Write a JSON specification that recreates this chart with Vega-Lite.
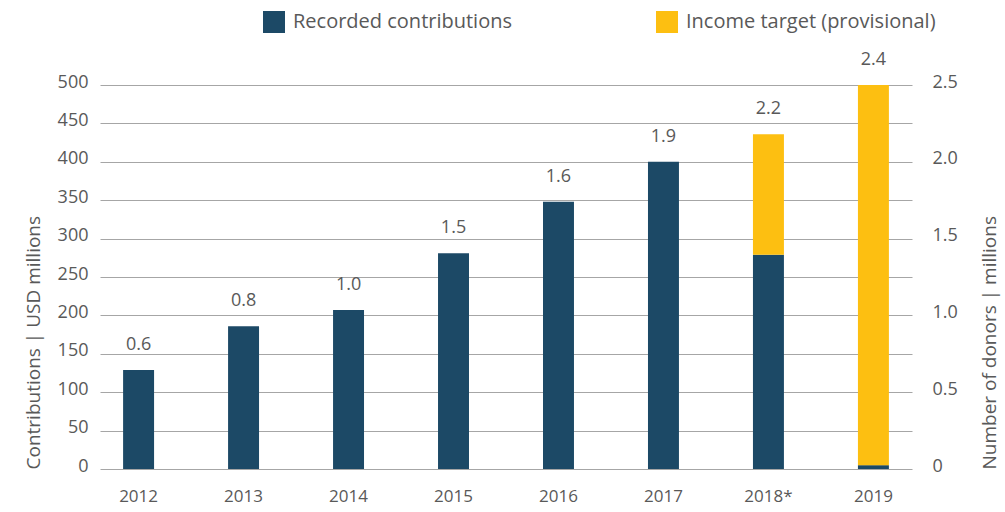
{
  "$schema": "https://vega.github.io/schema/vega-lite/v6.json",
  "width": 812,
  "height": 384,
  "autosize": {"type": "none"},
  "padding": {"left": 100, "top": 85, "right": 93, "bottom": 43},
  "config": {
    "view": {"stroke": null},
    "font": "Open Sans",
    "axis": {"labelColor": "#595959", "titleColor": "#595959", "labelFont": "Open Sans", "titleFont": "Open Sans", "titleFontWeight": "normal"}
  },
  "datasets": {
    "bars": [
      {"year": "2012", "series": "Recorded contributions", "value": 129},
      {"year": "2013", "series": "Recorded contributions", "value": 186},
      {"year": "2014", "series": "Recorded contributions", "value": 207},
      {"year": "2015", "series": "Recorded contributions", "value": 281},
      {"year": "2016", "series": "Recorded contributions", "value": 348},
      {"year": "2017", "series": "Recorded contributions", "value": 400},
      {"year": "2018*", "series": "Recorded contributions", "value": 279},
      {"year": "2018*", "series": "Income target (provisional)", "value": 157},
      {"year": "2019", "series": "Recorded contributions", "value": 5},
      {"year": "2019", "series": "Income target (provisional)", "value": 495}
    ],
    "labels": [
      {"year": "2012", "total": 129, "donors": 0.6},
      {"year": "2013", "total": 186, "donors": 0.8},
      {"year": "2014", "total": 207, "donors": 1.0},
      {"year": "2015", "total": 281, "donors": 1.5},
      {"year": "2016", "total": 348, "donors": 1.6},
      {"year": "2017", "total": 400, "donors": 1.9},
      {"year": "2018*", "total": 436, "donors": 2.2},
      {"year": "2019", "total": 500, "donors": 2.4}
    ]
  },
  "encoding": {
    "x": {
      "field": "year", "type": "nominal", "sort": null,
      "scale": {"paddingInner": 0.705, "paddingOuter": 0.22},
      "axis": {"title": null, "labelAngle": 0, "labelFontSize": 17, "ticks": false, "domain": false, "labelPadding": 19}
    }
  },
  "layer": [
    {
      "data": {"name": "bars"},
      "mark": {"type": "bar"},
      "encoding": {
        "y": {
          "field": "value", "type": "quantitative", "stack": "zero",
          "scale": {"domain": [0, 500], "nice": false},
          "axis": {
            "orient": "left", "title": "Contributions | USD millions", "titleFontSize": 19, "titlePadding": 14, "titleAnchor": "start",
            "values": [0, 50, 100, 150, 200, 250, 300, 350, 400, 450, 500],
            "labelFontSize": 18, "labelPadding": 12, "labelOffset": -3, "ticks": false, "domain": false,
            "grid": true, "gridColor": "#a6a6a6", "gridWidth": 1
          }
        },
        "color": {
          "field": "series", "type": "nominal",
          "scale": {"domain": ["Recorded contributions", "Income target (provisional)"], "range": ["#1c4966", "#fdbf11"]},
          "legend": {
            "orient": "none", "legendX": 163, "legendY": -74, "direction": "horizontal", "title": null,
            "symbolType": "square", "symbolSize": 484, "symbolStrokeWidth": 0, "symbolOpacity": 1,
            "labelFontSize": 20, "labelColor": "#595959", "labelFont": "Open Sans", "labelOffset": 8, "labelLimit": 500, "columnPadding": 144
          }
        },
        "order": {"field": "series", "sort": "descending"}
      }
    },
    {
      "data": {"name": "labels"},
      "mark": {"type": "text", "dy": -25, "fontSize": 18, "color": "#595959", "baseline": "middle"},
      "encoding": {
        "y": {"field": "total", "type": "quantitative", "scale": {"domain": [0, 500], "nice": false}, "axis": null},
        "text": {"field": "donors", "type": "quantitative", "format": ".1f"}
      }
    },
    {
      "data": {"name": "labels"},
      "mark": {"type": "point", "opacity": 0},
      "encoding": {
        "y": {
          "field": "donors", "type": "quantitative",
          "scale": {"domain": [0, 2.5], "nice": false},
          "axis": {
            "orient": "right", "title": "Number of donors | millions", "titleFontSize": 19, "titleAngle": 270, "titlePadding": 42, "titleAnchor": "start",
            "values": [0, 0.5, 1, 1.5, 2, 2.5], "labelExpr": "datum.value == 0 ? '0' : format(datum.value, '.1f')",
            "labelFontSize": 18, "labelPadding": 20, "labelOffset": -3, "ticks": false, "domain": false, "grid": false
          }
        }
      }
    }
  ],
  "resolve": {"scale": {"y": "independent"}}
}
